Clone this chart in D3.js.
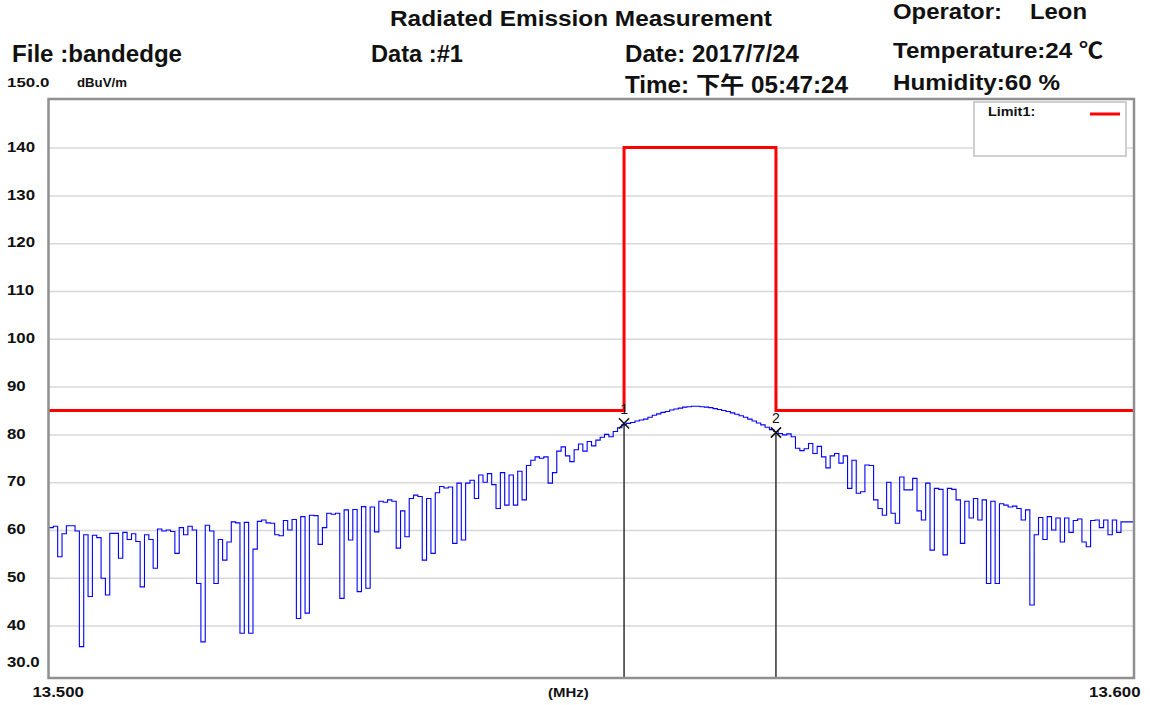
<!DOCTYPE html>
<html>
<head>
<meta charset="utf-8">
<script src="https://cdn.jsdelivr.net/npm/d3@7"></script>
<style>
	body { margin: 0; background: #fff; }
	svg { display: block; }
	text { font-family: "Liberation Sans", Arial, "Noto Sans CJK TC", sans-serif; font-weight: bold; fill: #111; }
</style>
</head>
<body>
<svg id="chart" width="1150" height="705"></svg>
<script>
// trace: one level per 0.0004 MHz from 13.500 MHz
const freqStart = 13.5;
const freqStep = 0.0004;
const traceLevels = [
	60.5, 60.8, 54.4, 59.2, 60.9, 60.9, 59.8, 35.6, 59.0, 46.1,
	58.9, 58.4, 49.9, 46.4, 59.3, 59.3, 54.1, 59.5, 58.0, 59.2,
	57.6, 48.1, 59.0, 58.0, 52.0, 60.2, 59.8, 60.0, 59.7, 55.1,
	60.5, 59.0, 60.8, 60.0, 48.8, 36.6, 61.0, 59.8, 48.8, 58.0,
	53.7, 57.5, 61.7, 61.5, 38.4, 61.6, 38.4, 56.0, 61.8, 62.1,
	61.5, 61.4, 59.0, 58.8, 62.0, 60.0, 62.2, 41.5, 62.8, 42.6,
	63.1, 63.0, 57.0, 60.5, 63.5, 63.3, 63.5, 45.7, 64.2, 57.9,
	64.3, 47.1, 64.9, 47.8, 64.8, 59.6, 66.0, 65.8, 66.3, 66.0,
	56.2, 64.0, 58.6, 66.6, 67.3, 67.0, 53.7, 66.6, 55.1, 67.8,
	69.1, 68.8, 69.0, 57.2, 69.8, 57.9, 69.8, 70.4, 66.6, 71.5,
	70.0, 71.8, 69.5, 64.5, 72.0, 65.2, 71.5, 65.2, 72.3, 66.3,
	73.5, 74.6, 75.3, 75.0, 75.3, 69.8, 72.0, 76.5, 77.4, 75.5,
	74.3, 76.8, 78.0, 76.5, 78.5, 77.6, 78.8, 79.4, 80.0, 79.5,
	80.6, 81.4, 82.0, 82.3, 82.5, 82.8, 83.0, 83.2, 83.6, 84.0,
	84.3, 84.6, 84.8, 85.1, 85.3, 85.5, 85.7, 85.8, 85.9, 85.9,
	85.8, 85.7, 85.6, 85.4, 85.2, 85.0, 84.8, 84.5, 84.2, 83.9,
	83.6, 83.2, 82.8, 82.4, 82.0, 81.5, 81.0, 80.6, 80.2, 79.9,
	80.1, 79.5, 77.1, 76.6, 77.0, 78.1, 76.0, 77.5, 75.3, 73.0,
	75.5, 76.0, 74.0, 75.5, 68.7, 74.6, 67.7, 68.0, 73.6, 73.5,
	66.3, 64.5, 63.1, 70.0, 63.5, 61.4, 71.1, 68.4, 68.4, 70.8,
	64.0, 62.1, 69.8, 55.8, 68.7, 68.5, 54.8, 68.7, 68.5, 66.3,
	57.2, 66.0, 62.5, 66.6, 62.1, 66.3, 48.8, 66.0, 48.8, 65.5,
	65.2, 64.8, 65.0, 64.5, 62.1, 64.2, 44.3, 59.0, 62.6, 58.0,
	62.8, 60.0, 62.5, 57.5, 62.5, 59.5, 62.0, 62.3, 57.5, 56.5,
	62.0, 62.1, 60.5, 62.1, 59.0, 62.1, 59.5, 61.7, 61.7, 61.7, 61.7
];

// Limit1
const limitFreqs = [13.5, 13.553, 13.553, 13.567, 13.567, 13.6];
const limitLevels = [85, 85, 140, 140, 85, 85];

// markers
const markerLabels = ["1", "2"];
const markerFreqs = [13.553, 13.567];
const markerLevels = [82.3, 80.4];

const yTicks = [40, 50, 60, 70, 80, 90, 100, 110, 120, 130, 140];
const xTicks = [13.5, 13.6];

const svg = d3.select("#chart");
svg.append("rect").attr("width", 1150).attr("height", 705).attr("fill", "#fff");

const plotLeft = 49, plotRight = 1134, plotTop = 99.8, plotBottom = 673.4;
const x = d3.scaleLinear().domain([13.5, 13.6]).range([plotLeft, plotRight]);
const y = d3.scaleLinear().domain([30, 150]).range([plotBottom, plotTop]);

//stretch text horizontally like the screenshot
const stretch = (sel, k) => {
	sel.each(function () {
		const w = this.getComputedTextLength();
		d3.select(this).attr("textLength", w * k).attr("lengthAdjust", "spacingAndGlyphs");
	});
};

const label = (str, px, py, size, w) => {
	const t = svg.append("text").attr("x", px).attr("y", py)
		.style("font-size", size + "px").text(str);
	if (w) t.attr("textLength", w).attr("lengthAdjust", "spacingAndGlyphs");
	return t;
};

//header
label("Radiated Emission Measurement", 390, 26, 22, 382);
label("File :bandedge", 12, 62, 23, 170);
label("Data :#1", 371, 62, 23, 92);
label("Date: 2017/7/24", 625, 62, 23, 174);
label("Time: 下午 05:47:24", 625, 93, 23, 223);
label("Operator:", 893, 19, 22, 109);
label("Leon", 1030, 19, 22, 57);
label("Temperature:24 ℃", 893, 58, 22, 210);
label("Humidity:60 %", 893, 90, 22, 167);

stretch(label("150.0", 7, 87, 13), 1.3);
stretch(label("dBuV/m", 77, 87, 12), 1.1);

//gridlines + y labels
const yAxis = d3.axisLeft(y).tickValues(yTicks).tickSize(-(plotRight - plotLeft)).tickFormat(d3.format("d"));
const gy = svg.append("g").attr("transform", "translate(" + plotLeft + ",0)").call(yAxis);
gy.select(".domain").remove();
gy.selectAll(".tick line").attr("stroke", "#d8d8d8").attr("stroke-width", 1.5);
gy.selectAll(".tick text")
	.attr("x", 7 - plotLeft).attr("dy", "0.24em")
	.attr("text-anchor", "start")
	.style("font-size", "15px").attr("fill", "#111");
stretch(gy.selectAll(".tick text"), 1.12);
stretch(label("30.0", 7, 667, 15), 1.12);

//x labels
const xAxis = d3.axisBottom(x).tickValues(xTicks).tickSize(0).tickFormat(d3.format(".3f"));
const gx = svg.append("g").attr("transform", "translate(0,678)").call(xAxis);
gx.select(".domain").remove();
gx.selectAll(".tick text")
	.attr("y", 19).attr("dy", null)
	.attr("text-anchor", (d, i) => (i === 0 ? "start" : "end"))
	.attr("x", (d, i) => (i === 0 ? -17 : 6))
	.style("font-size", "15px").attr("fill", "#111");
stretch(gx.selectAll(".tick text"), 1.12);
stretch(label("(MHz)", 548, 697, 13), 1.15);

//limit line
const limitData = limitFreqs.map((f, i) => [f, limitLevels[i]]);
svg.append("path")
	.datum(limitData)
	.attr("fill", "none")
	.attr("stroke", "#ff0000")
	.attr("stroke-width", 3)
	.attr("d", d3.line().x((d) => x(d[0])).y((d) => y(d[1])));

//marker drop lines
svg.append("g").selectAll("line")
	.data(markerFreqs)
	.join("line")
	.attr("x1", (d) => x(d)).attr("x2", (d) => x(d))
	.attr("y1", (d, i) => y(markerLevels[i]))
	.attr("y2", 678)
	.attr("stroke", "#111")
	.attr("stroke-width", 1.3);

//trace
svg.append("path")
	.datum(traceLevels)
	.attr("fill", "none")
	.attr("stroke", "#0000ff")
	.attr("stroke-width", 1.1)
	.attr("d", d3.line()
		.curve(d3.curveStepAfter)
		.x((d, i) => x(freqStart + i * freqStep))
		.y((d) => y(d)));

//markers
const mk = svg.append("g").selectAll("g")
	.data(markerFreqs)
	.join("g")
	.attr("transform", (d, i) => "translate(" + x(d) + "," + y(markerLevels[i]) + ")");
mk.append("path")
	.attr("d", d3.symbol().type(d3.symbolX).size(70))
	.attr("fill", "none")
	.attr("stroke", "#111")
	.attr("stroke-width", 1.5);
mk.append("text")
	.attr("y", -9)
	.attr("text-anchor", "middle")
	.style("font-size", "14px")
	.style("font-weight", "normal")
	.text((d, i) => markerLabels[i]);

//frame
svg.append("rect")
	.attr("x", 48.5).attr("y", 99)
	.attr("width", plotRight - 48.5).attr("height", 678 - 99)
	.attr("fill", "none")
	.attr("stroke", "#909090")
	.attr("stroke-width", 2.5);

//legend
svg.append("rect")
	.attr("x", 974).attr("y", 102)
	.attr("width", 152).attr("height", 54)
	.attr("fill", "#fff")
	.attr("stroke", "#cfcfcf")
	.attr("stroke-width", 2);
stretch(label("Limit1:", 988, 116, 12), 1.2);
svg.append("line")
	.attr("x1", 1090).attr("x2", 1120)
	.attr("y1", 114).attr("y2", 114)
	.attr("stroke", "#ff0000")
	.attr("stroke-width", 3);
</script>
</body>
</html>
